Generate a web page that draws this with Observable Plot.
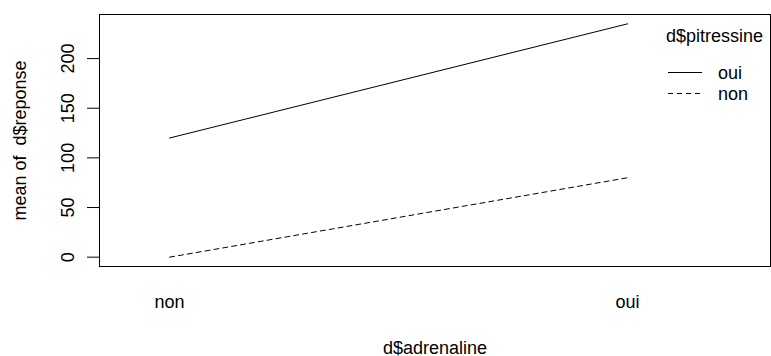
<!DOCTYPE html>
<html><head><meta charset="utf-8">
<script src="https://cdn.jsdelivr.net/npm/d3@7"></script>
<script src="https://cdn.jsdelivr.net/npm/@observablehq/plot@0.6"></script>
<style>
body{margin:0;background:#fff}
svg{font-family:"Liberation Sans",Arial,sans-serif}
</style>
</head><body><div id="chart"></div>
<script>
// Data
const adrenaline = ["non", "oui"];          // x categories
const pitressine = ["oui", "non"];          // trace factor levels (legend order)
const meanOui = [120, 235];                 // pitressine = oui
const meanNon = [0, 80];                    // pitressine = non
const yTicks = [0, 50, 100, 150, 200];
const xTicks = [1, 2];
const traceTitle = "d$pitressine";
const xLabel = "d$adrenaline";
const yLabel = "mean of\u00a0\u00a0d$reponse";
const dashFor = {oui: null, non: "5,4"};

const rows = [];
adrenaline.forEach((a, i) => {
  rows.push({a, x: i + 1, p: "oui", y: meanOui[i]});
  rows.push({a, x: i + 1, p: "non", y: meanNon[i]});
});

const W = 771, H = 356, mL = 99, mR = 1, mT = 14, mB = 90;
const fs = "18px";

const chart = Plot.plot({
  width: W, height: H,
  marginLeft: mL, marginRight: mR, marginTop: mT, marginBottom: mB,
  style: {fontFamily: '"Liberation Sans", Arial, sans-serif', fontSize: fs, background: "#fff", color: "#000", overflow: "visible"},
  x: {type: "linear", domain: [0.847, 2.312]},
  y: {domain: [-9.4, 244.4]},
  marks: [
    Plot.frame({stroke: "#000"}),
    Plot.axisY({ticks: yTicks, tickSize: 12, tickRotate: -90, tickPadding: 14,
      label: yLabel, labelAnchor: "center", labelOffset: 86, labelArrow: "none"}),
    Plot.axisX({ticks: xTicks, tickFormat: d => adrenaline[d - 1], tickSize: 0, tickPadding: 28.5,
      label: xLabel, labelAnchor: "center", labelOffset: 87, labelArrow: "none"}),
    Plot.line(rows.filter(d => d.p === "oui"), {x: "x", y: "y", stroke: "#000", strokeWidth: 1}),
    Plot.line(rows.filter(d => d.p === "non"), {x: "x", y: "y", stroke: "#000", strokeWidth: 1, strokeDasharray: dashFor.non})
  ]
});
document.getElementById("chart").appendChild(chart);

// Legend (R-style, no box)
const svg = d3.select(chart);
const lg = svg.append("g").attr("font-size", fs).attr("fill", "#000").attr("text-anchor", "start");
const lx = 666;
lg.append("text").attr("x", lx).attr("y", 42).text(traceTitle);
pitressine.forEach((p, i) => {
  const yy = 72 + i * 21;
  lg.append("line").attr("x1", lx + 2).attr("x2", lx + 36).attr("y1", yy + 0.5).attr("y2", yy + 0.5)
    .attr("stroke", "#000").attr("stroke-width", 1).attr("stroke-dasharray", dashFor[p]);
  lg.append("text").attr("x", lx + 52).attr("y", yy + 6.5).text(p);
});
</script>
</body></html>
